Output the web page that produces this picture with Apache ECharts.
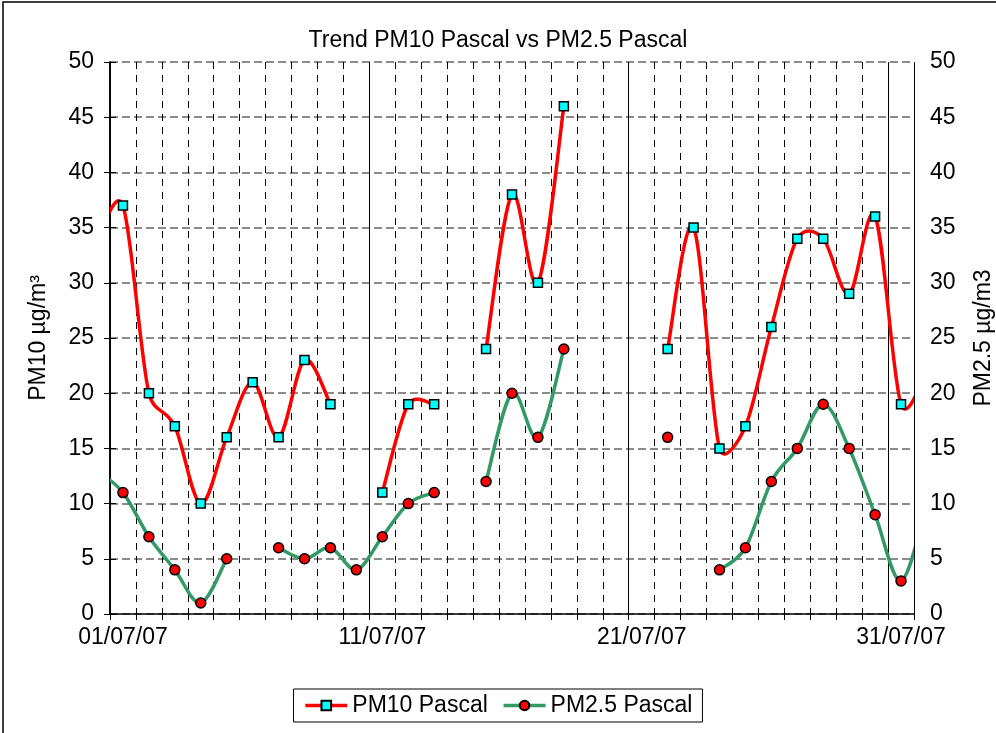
<!DOCTYPE html>
<html>
<head>
<meta charset="utf-8">
<title>Trend PM10 Pascal vs PM2.5 Pascal</title>
<script src="https://cdn.jsdelivr.net/npm/echarts@6/dist/echarts.min.js"></script>
<style>
  html, body { margin: 0; padding: 0; background: #fff; }
  #chart { width: 996px; height: 733px; }
</style>
</head>
<body>
<div id="chart"></div>
<script>
// giorno del mese (0 = 30/06 e 32 = 01/08, fuori scala: servono solo per la curva ai bordi)
var days = [0, 1, 2, 3, 4, 5, 6, 7, 8, 9, 10, 11, 12, 13, 14, 15, 16,
  17, 18, 19, 20, 21, 22, 23, 24, 25, 26, 27, 28, 29, 30, 31, 32]
// medie giornaliere µg/m3, null = dato mancante
var pm10 = [34, 37, 20, 17, 10, 16, 21, 16, 23, 19, null, 11, 19, 19, null, 24, 38,
  30, 46, null, null, null, 24, 35, 15, 17, 26, 34, 34, 29, 36, 19, 22]
var pm25 = [13, 11, 7, 4, 1, 5, null, 6, 5, 6, 4, 7, 10, 11, null, 12, 20,
  16, 24, null, null, null, 16, null, 4, 6, 12, 15, 19, 15, 9, 3, 10]
var xTickLabels = ['01/07/07', '11/07/07', '21/07/07', '31/07/07']

var chart = echarts.init(document.getElementById('chart'))

// punto a mezzogiorno del giorno: x = giorni trascorsi dal 01/07 00:00
function toPoints(values) {
  return days.map(function (d, i) {
    return [d - 0.5, values[i]]
  })
}

// tangente tipo Excel: (next - prev) / 6, limitata a metà del tratto
function arm(a, b, segLen) {
  var vx = (b[0] - a[0]) / 6
  var vy = (b[1] - a[1]) / 6
  var len = Math.sqrt(vx * vx + vy * vy)
  if (len > segLen / 2 && len > 0) {
    vx *= segLen / 2 / len
    vy *= segLen / 2 / len
  }
  return [vx, vy]
}

// linea smussata come in Excel, un tratto bezier per ogni coppia di punti
function smoothSegment(values, color) {
  return function (params, api) {
    var i = params.dataIndex
    if (values[i] == null || i + 1 >= values.length || values[i + 1] == null) return
    var pt = function (k) { return api.coord([days[k] - 0.5, values[k]]) }
    var p1 = pt(i)
    var p2 = pt(i + 1)
    var p0 = (i > 0 && values[i - 1] != null) ? pt(i - 1) : p1
    var p3 = (i + 2 < values.length && values[i + 2] != null) ? pt(i + 2) : p2
    var d12 = Math.sqrt(Math.pow(p2[0] - p1[0], 2) + Math.pow(p2[1] - p1[1], 2))
    var a1 = arm(p0, p2, d12)
    var a2 = arm(p1, p3, d12)
    return {
      type: 'bezierCurve',
      shape: {
        x1: p1[0], y1: p1[1],
        x2: p2[0], y2: p2[1],
        cpx1: p1[0] + a1[0],
        cpy1: p1[1] + a1[1],
        cpx2: p2[0] - a2[0],
        cpy2: p2[1] - a2[1]
      },
      style: { stroke: color, lineWidth: 3.5, fill: null, lineCap: 'round' }
    }
  }
}

var font = 'Liberation Sans, Arial, sans-serif'

chart.setOption({
  animation: false,
  textStyle: { fontFamily: font },
  title: {
    text: 'Trend PM10 Pascal vs PM2.5 Pascal',
    left: 'center',
    top: 24,
    textStyle: { fontSize: 23, fontWeight: 'normal', color: '#000', fontFamily: font }
  },
  legend: {
    left: 'center',
    top: 689,
    itemWidth: 42,
    itemHeight: 12,
    itemGap: 14,
    padding: [5, 10],
    borderColor: '#000',
    borderWidth: 1,
    textStyle: { fontSize: 23, color: '#000', fontFamily: font },
    data: [
      { name: 'PM10 Pascal', lineStyle: { color: '#ff0000', width: 3.5, opacity: 1 } },
      { name: 'PM2.5 Pascal', lineStyle: { color: '#339966', width: 3.5, opacity: 1 } }
    ]
  },
  grid: { left: 110, right: 82, top: 62, bottom: 119, containLabel: false, outerBoundsMode: 'none' },
  graphic: [{
    type: 'rect',
    shape: { x: 3, y: 2, width: 1010, height: 800 },
    style: { fill: 'none', stroke: '#000', lineWidth: 1.5 },
    silent: true
  }],
  xAxis: [
    {
      type: 'value',
      min: 0,
      max: 31,
      interval: 1,
      axisLine: { lineStyle: { color: '#000', width: 1.5 } },
      axisTick: { length: 6, lineStyle: { color: '#000' } },
      axisLabel: {
        fontSize: 23,
        color: '#000',
        margin: 12,
        padding: [0, 0, 0, 26],
        formatter: function (v) {
          return v % 10 === 0 ? (xTickLabels[v / 10] || '') : ''
        }
      },
      splitLine: { show: true, lineStyle: { color: '#000', width: 1, type: [7, 6] } }
    },
    {
      // linee verticali continue ogni 10 giorni
      type: 'value',
      min: 0,
      max: 31,
      interval: 10,
      axisLine: { show: false },
      axisTick: { show: false },
      axisLabel: { show: false },
      splitLine: { show: true, lineStyle: { color: '#000', width: 1, type: 'solid' } }
    }
  ],
  yAxis: [
    {
      type: 'value',
      min: 0,
      max: 50,
      interval: 5,
      name: 'PM10 µg/m³',
      nameLocation: 'middle',
      nameGap: 60,
      nameTextStyle: { fontSize: 23, color: '#000', fontFamily: font },
      axisLine: { show: true, lineStyle: { color: '#000', width: 1.5 } },
      axisTick: { show: true, length: 6, lineStyle: { color: '#000' } },
      axisLabel: { fontSize: 23, color: '#000', margin: 16 },
      splitLine: { show: true, lineStyle: { color: '#666', width: 1.5, type: [8, 4] } }
    },
    {
      type: 'value',
      min: 0,
      max: 50,
      interval: 5,
      position: 'right',
      name: 'PM2.5 µg/m3',
      nameLocation: 'middle',
      nameRotate: 90,
      nameGap: 58,
      nameTextStyle: { fontSize: 23, color: '#000', fontFamily: font },
      axisLine: { show: true, lineStyle: { color: '#000', width: 1.5 } },
      axisTick: { show: true, length: 6, lineStyle: { color: '#000' } },
      axisLabel: { fontSize: 23, color: '#000', margin: 16 },
      splitLine: { show: false }
    }
  ],
  series: [
    {
      type: 'custom',
      xAxisIndex: 0,
      yAxisIndex: 0,
      clip: true,
      silent: true,
      renderItem: smoothSegment(pm10, '#ff0000'),
      encode: { x: 0, y: 1 },
      data: toPoints(pm10),
      z: 2
    },
    {
      type: 'custom',
      xAxisIndex: 0,
      yAxisIndex: 1,
      clip: true,
      silent: true,
      renderItem: smoothSegment(pm25, '#339966'),
      encode: { x: 0, y: 1 },
      data: toPoints(pm25),
      z: 2
    },
    {
      name: 'PM10 Pascal',
      type: 'line',
      xAxisIndex: 0,
      yAxisIndex: 0,
      clip: true,
      symbol: 'rect',
      symbolSize: 9,
      lineStyle: { color: '#ff0000', width: 0 },
      itemStyle: { color: '#00ffff', borderColor: '#000', borderWidth: 1.5 },
      data: toPoints(pm10),
      z: 3
    },
    {
      name: 'PM2.5 Pascal',
      type: 'line',
      xAxisIndex: 0,
      yAxisIndex: 1,
      clip: true,
      symbol: 'circle',
      symbolSize: 10,
      lineStyle: { color: '#339966', width: 0 },
      itemStyle: { color: '#ff0000', borderColor: '#000', borderWidth: 1.5 },
      data: toPoints(pm25),
      z: 3
    }
  ]
})
</script>
</body>
</html>
